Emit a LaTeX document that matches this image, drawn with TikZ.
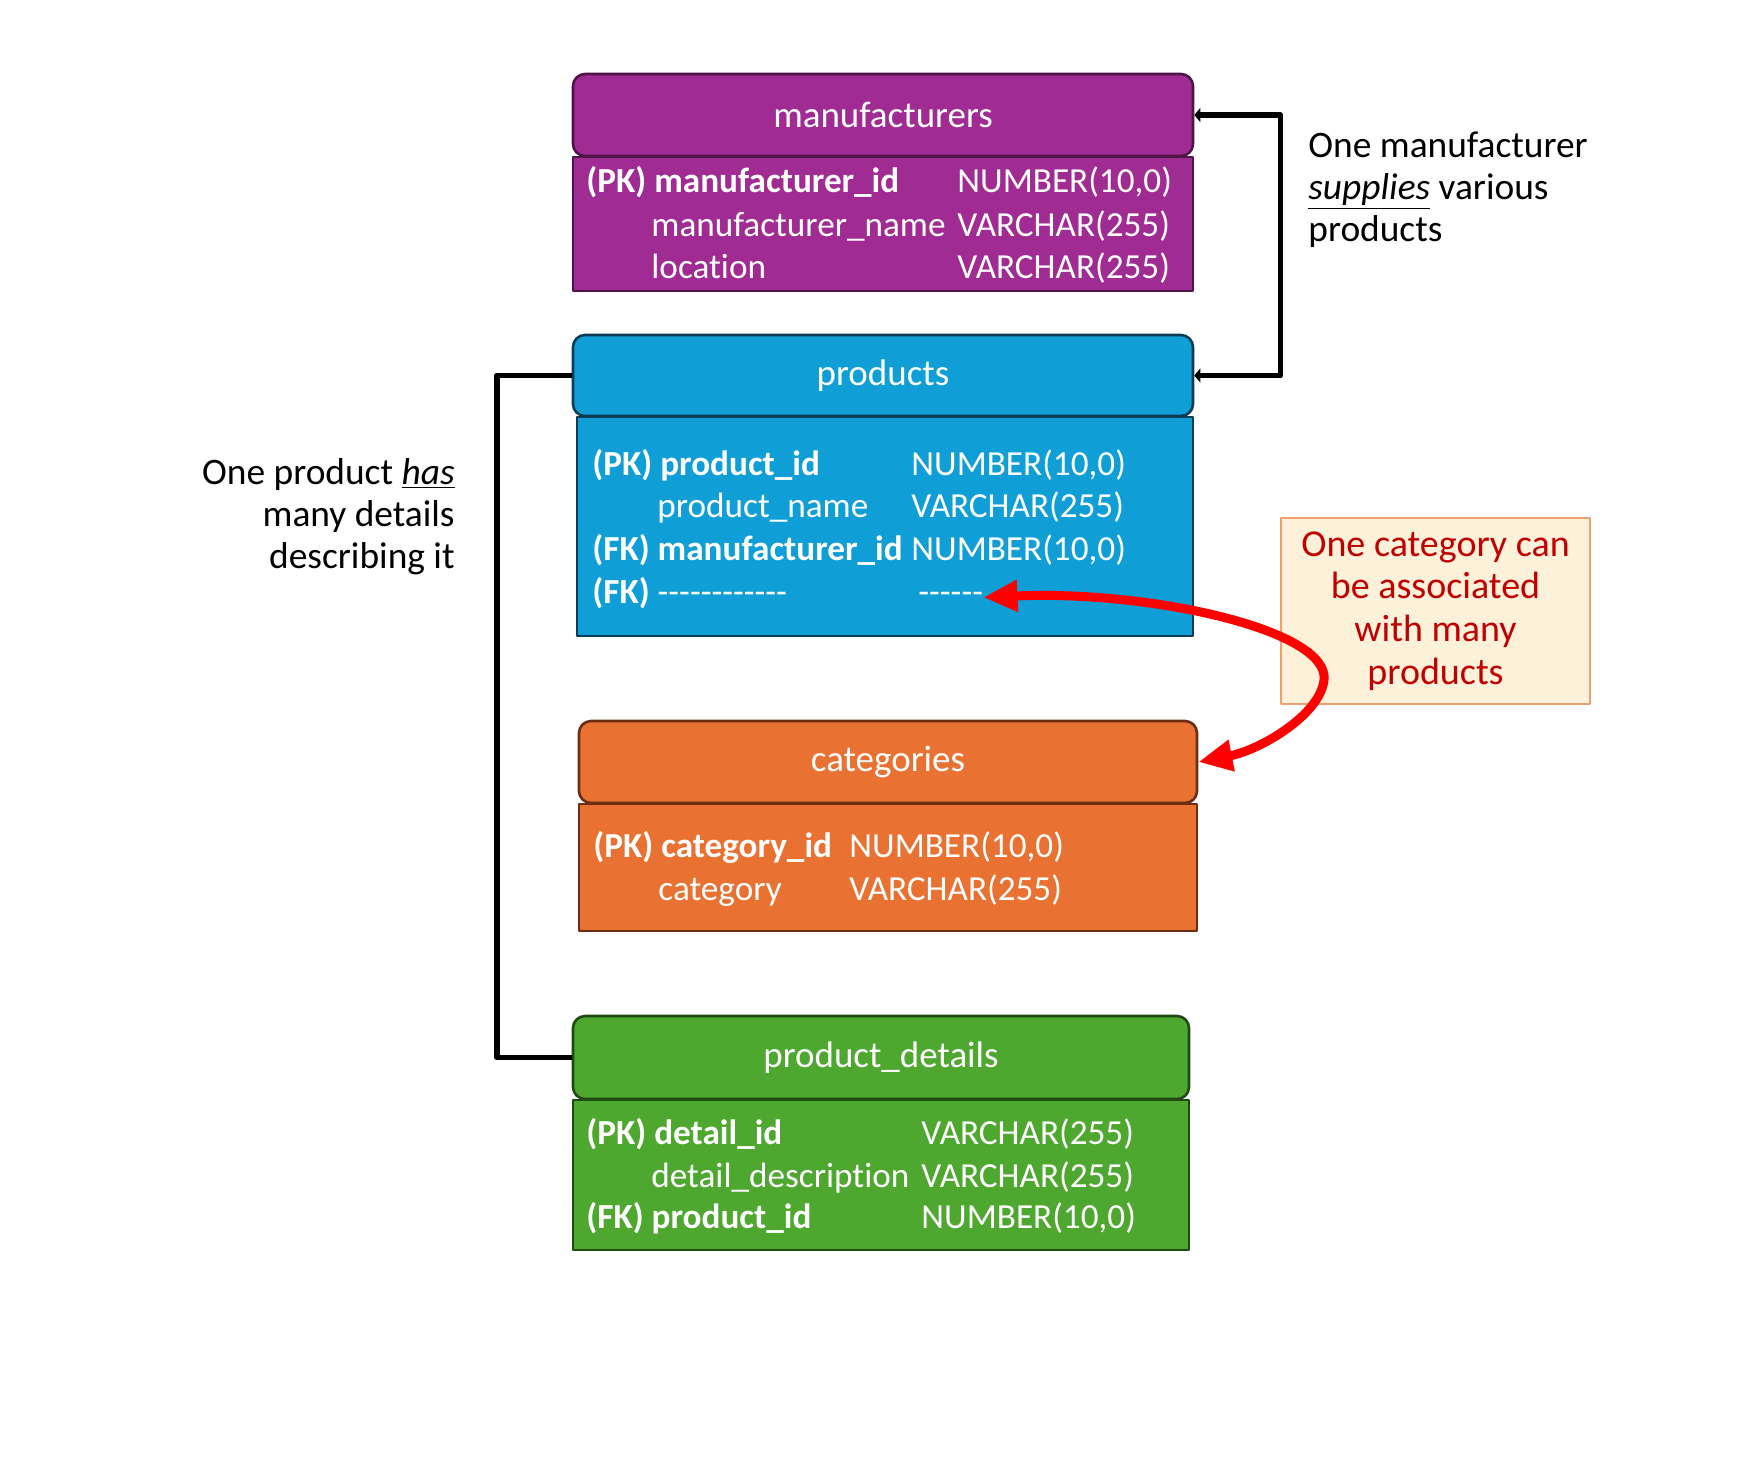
\documentclass[tikz,border=0pt]{standalone}
\usepackage{fontspec}
\setmainfont{Carlito}[Ligatures={TeXOff,CommonOff}]
\usetikzlibrary{arrows.meta,positioning}
\definecolor{mfrfill}{HTML}{A02B93}
\definecolor{mfrline}{HTML}{4F1548}
\definecolor{prodfill}{HTML}{0F9ED5}
\definecolor{prodline}{HTML}{0A3D55}
\definecolor{catfill}{HTML}{E97132}
\definecolor{catline}{HTML}{6B2E12}
\definecolor{detfill}{HTML}{4EA72E}
\definecolor{detline}{HTML}{1F4A12}
\definecolor{notefill}{HTML}{FDF1D9}
\definecolor{noteline}{HTML}{F0A070}
\definecolor{notetext}{HTML}{C00000}
\begin{document}
\begin{tikzpicture}[x=0.5pt,y=-0.5pt,line join=round,
		every node/.style={font=\fontsize{17.6}{21}\selectfont,text=white},
		cell/.style={anchor=base west,inner sep=0pt},
		head/.style={draw,line width=1.3pt,rounded corners=6pt,font=\fontsize{18.5}{22}\selectfont},
		body/.style={draw,line width=1.3pt},
		link/.style={line width=2.8pt,line cap=butt},
		note/.style={text=black,inner sep=0pt,font=\fontsize{18.7}{21}\selectfont}]
	\useasboundingbox (0,0) rectangle (1764,1474);
	
	% manufacturers
	\node[head,fill=mfrfill,draw=mfrline,minimum width=310pt,minimum height=41pt] (mfr) at (883,115) {manufacturers};
	\node[body,fill=mfrfill,draw=mfrline,minimum width=310pt,minimum height=67pt] (mfrbody) at (883,224) {};
	\node[cell] (mk1) at (586,192) {\textbf{(PK) manufacturer\_id}};
	\node[cell] (mn2) at (651,236) {manufacturer\_name};
	\node[cell] (mn3) at (651,278) {location};
	\foreach \y/\t [count=\i] in {192/{NUMBER(10,0)},236/{VARCHAR(255)},278/{VARCHAR(255)}}
	\node[cell] (mt\i) at (957,\y) {\t};
	
	% products
	\node[head,fill=prodfill,draw=prodline,minimum width=310pt,minimum height=40.5pt] (prod) at (883,375.5) {products};
	\node[body,fill=prodfill,draw=prodline,minimum width=308pt,minimum height=109.5pt] (prodbody) at (885,526.5) {};
	\node[cell] (pk1) at (592,475) {\textbf{(PK) product\_id}};
	\node[cell] (pn2) at (657,517) {product\_name};
	\node[cell] (pk3) at (592,560) {\textbf{(FK) manufacturer\_id}};
	\node[cell] (pk4) at (592,603) {\textbf{(FK)} ------------};
	\foreach \y/\t [count=\i] in {475/{NUMBER(10,0)},517/{VARCHAR(255)},560/{NUMBER(10,0)}}
	\node[cell] (pt\i) at (911,\y) {\t};
	\node[cell] (fkdash) at (918,603) {------};
	
	% categories
	\node[head,fill=catfill,draw=catline,minimum width=309pt,minimum height=41pt] (cat) at (888,762) {categories};
	\node[body,fill=catfill,draw=catline,minimum width=309pt,minimum height=63.5pt] (catbody) at (888,867.5) {};
	\node[cell] (ck1) at (593,857) {\textbf{(PK) category\_id}};
	\node[cell] (cn2) at (658,900) {category};
	\foreach \y/\t [count=\i] in {857/{NUMBER(10,0)},900/{VARCHAR(255)}}
	\node[cell] (ct\i) at (849,\y) {\t};
	
	% product_details
	\node[head,fill=detfill,draw=detline,minimum width=308pt,minimum height=41.5pt] (det) at (881,1057.5) {product\_details};
	\node[body,fill=detfill,draw=detline,minimum width=308pt,minimum height=75pt] (detbody) at (881,1175) {};
	\node[cell] (dk1) at (586,1144) {\textbf{(PK) detail\_id}};
	\node[cell] (dn2) at (651,1187) {detail\_description};
	\node[cell] (dk3) at (586,1228) {\textbf{(FK) product\_id}};
	\foreach \y/\t [count=\i] in {1144/{VARCHAR(255)},1187/{VARCHAR(255)},1228/{NUMBER(10,0)}}
	\node[cell] (dt\i) at (921,\y) {\t};
	
	% notes
	\node[note,align=left,anchor=west] (mfrnote) at (1308,190) {One manufacturer\\\underline{\textit{supplies}} various\\products};
	\node[note,align=right,anchor=east] (detnote) at (455,517) {One product \underline{\textit{has}}\\many details\\describing it};
	\node[draw=noteline,fill=notefill,text=notetext,line width=0.6pt,align=center,
		minimum width=154.5pt,minimum height=93pt,font=\fontsize{19}{21.4}\selectfont] (catnote) at (1435.5,611)
		{One category can\\be associated\\with many\\products};
	
	% relations
	\draw[link,{Triangle[length=3pt,width=7pt]}-{Triangle[length=3pt,width=7pt]}] (mfr.east) -- ++(86,0) |- (prod.east);
	\draw[link] (prod.west) -- ++(-75,0) |- (det.west);
	\draw[red,line width=4.5pt,{Triangle[length=17pt,width=15pt]}-{Triangle[length=17pt,width=15pt]}]
		(fkdash.east) .. controls (1150,590) and (1330,630) .. (1324,680)
		.. controls (1320,715) and (1260,750) .. (cat.east);
\end{tikzpicture}
\end{document}
